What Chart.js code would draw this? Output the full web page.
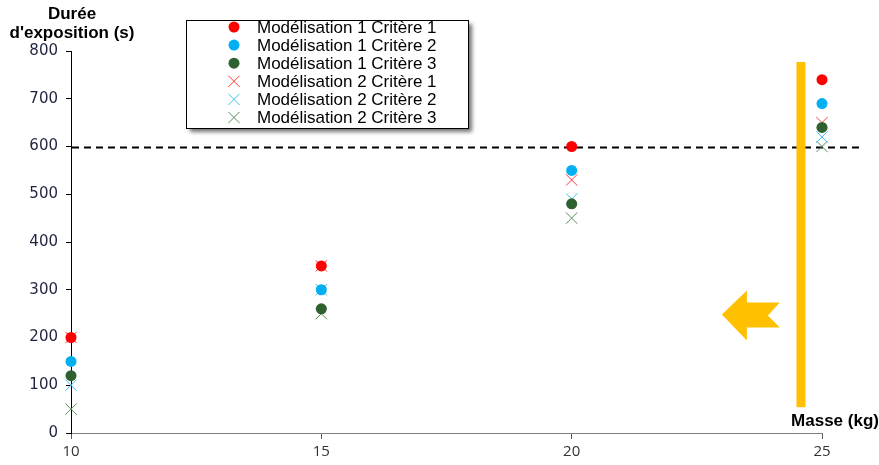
<!DOCTYPE html>
<html lang="fr">
<head>
    <meta charset="UTF-8">
    <title>Durée d'exposition selon la masse</title>
    <script src="https://cdn.jsdelivr.net/npm/chart.js@4.4.0/dist/chart.umd.min.js"></script>
    <style>
        html, body { margin: 0; padding: 0; background: #fff; }
        #wrap { position: relative; width: 879px; height: 465px; }
    </style>
</head>
<body>
    <div id="wrap"><canvas id="chart" width="879" height="465"></canvas></div>

    <script>
        // Data
        const masses = [10, 15, 20, 25];
        const m1c1 = [200, 350, 600, 740];
        const m1c2 = [150, 300, 550, 690];
        const m1c3 = [120, 260, 480, 640];
        const m2c1 = [200, 350, 530, 650];
        const m2c2 = [100, 300, 490, 620];
        const m2c3 = [50, 250, 450, 600];

        const seriesNames = [
            'Modélisation 1 Critère 1', 'Modélisation 1 Critère 2', 'Modélisation 1 Critère 3',
            'Modélisation 2 Critère 1', 'Modélisation 2 Critère 2', 'Modélisation 2 Critère 3'
        ];
        const yTicks = [0, 100, 200, 300, 400, 500, 600, 700, 800];
        const xTicks = [10, 15, 20, 25];
        const yTitle = ['Durée', "d'exposition (s)"];
        const xTitle = 'Masse (kg)';
        const threshold = 600;

        const ORANGE = '#FFC000';

        function pts(values) {
            return masses.map((m, i) => ({ x: m, y: values[i] }));
        }

        function dot(label, values, color) {
            return {
                label, data: pts(values),
                pointStyle: 'circle', pointRadius: 5.5,
                backgroundColor: color, borderColor: color, borderWidth: 0,
                showLine: false, clip: false
            };
        }
        function cross(label, values, color) {
            return {
                label, data: pts(values),
                pointStyle: 'crossRot', pointRadius: 8,
                backgroundColor: color, borderColor: color, borderWidth: 1,
                showLine: false, clip: false
            };
        }

        const datasets = [
            dot(seriesNames[0], m1c1, '#FF0000'),
            dot(seriesNames[1], m1c2, '#00B0F0'),
            dot(seriesNames[2], m1c3, '#2F6030'),
            cross(seriesNames[3], m2c1, '#FF3B3B'),
            cross(seriesNames[4], m2c2, '#3CC0F0'),
            cross(seriesNames[5], m2c3, '#5A8A5A')
        ];

        // dashed threshold line, orange bar and arrow
        const decorations = {
            id: 'decorations',
            beforeDatasetsDraw(chart) {
                const { ctx, chartArea, scales } = chart;
                const y = Math.round(scales.y.getPixelForValue(threshold)) + 0.5;
                ctx.save();
                ctx.strokeStyle = '#000';
                ctx.lineWidth = 2;
                ctx.setLineDash([7, 5]);
                ctx.beginPath();
                ctx.moveTo(chartArea.left + 1, y);
                ctx.lineTo(chartArea.right + 40, y);
                ctx.stroke();
                ctx.setLineDash([]);

                // vertical orange bar
                const bx = scales.x.getPixelForValue(24.58);
                const top = scales.y.getPixelForValue(777);
                const bot = scales.y.getPixelForValue(54);
                ctx.fillStyle = ORANGE;
                ctx.fillRect(bx - 4.5, top, 9, bot - top);

                // arrow pointing left
                const ax = scales.x.getPixelForValue(23.0);
                const ay = scales.y.getPixelForValue(248);
                ctx.beginPath();
                ctx.moveTo(ax, ay);
                ctx.lineTo(ax + 25, ay - 24);
                ctx.lineTo(ax + 25, ay - 12);
                ctx.lineTo(ax + 58, ay - 12);
                ctx.lineTo(ax + 46, ay + 1);
                ctx.lineTo(ax + 58, ay + 13);
                ctx.lineTo(ax + 25, ay + 13);
                ctx.lineTo(ax + 25, ay + 26);
                ctx.closePath();
                ctx.fill();
                ctx.restore();
            }
        };

        // legend box and axis titles
        const overlay = {
            id: 'overlay',
            afterDraw(chart) {
                const ctx = chart.ctx;
                ctx.save();

                // axis titles
                ctx.fillStyle = '#000';
                ctx.font = "bold 17px 'Liberation Sans', Arial, sans-serif";
                ctx.textAlign = 'center';
                ctx.textBaseline = 'middle';
                ctx.fillText(yTitle[0], 72, 14);
                ctx.fillText(yTitle[1], 72, 33);
                ctx.fillText(xTitle, 835, 421);

                // legend
                const bx = 186.5, by = 20.5, bw = 282, bh = 108;
                ctx.shadowColor = 'rgba(0,0,0,0.55)';
                ctx.shadowBlur = 4;
                ctx.shadowOffsetX = 3;
                ctx.shadowOffsetY = 3;
                ctx.fillStyle = '#fff';
                ctx.fillRect(bx, by, bw, bh);
                ctx.shadowColor = 'transparent';
                ctx.strokeStyle = '#000';
                ctx.lineWidth = 1;
                ctx.strokeRect(bx, by, bw, bh);

                ctx.font = "17px 'Liberation Sans', Arial, sans-serif";
                ctx.textAlign = 'left';
                chart.data.datasets.forEach((ds, i) => {
                    const cy = 27 + i * 18.1;
                    const mx = 234;
                    ctx.fillStyle = ds.backgroundColor;
                    ctx.strokeStyle = ds.borderColor;
                    if (ds.pointStyle === 'circle') {
                        ctx.beginPath();
                        ctx.arc(mx, cy, 5.5, 0, Math.PI * 2);
                        ctx.fill();
                    } else {
                        const r = 5.6;
                        ctx.lineWidth = 1;
                        ctx.beginPath();
                        ctx.moveTo(mx - r, cy - r); ctx.lineTo(mx + r, cy + r);
                        ctx.moveTo(mx + r, cy - r); ctx.lineTo(mx - r, cy + r);
                        ctx.stroke();
                    }
                    ctx.fillStyle = '#000';
                    ctx.fillText(ds.label, 257, cy + 1);
                });
                ctx.restore();
            }
        };

        new Chart(document.getElementById('chart'), {
            type: 'scatter',
            data: { datasets },
            options: {
                responsive: false,
                animation: false,
                layout: { padding: { top: 51, right: 57, bottom: 0, left: 0 } },
                plugins: {
                    legend: { display: false },
                    tooltip: { enabled: false }
                },
                scales: {
                    x: {
                        type: 'linear',
                        min: 10, max: 25,
                        afterFit(scale) { scale.height = 32; },
                        afterBuildTicks(scale) { scale.ticks = xTicks.map(v => ({ value: v })); },
                        grid: { drawOnChartArea: false, drawTicks: true, tickLength: 6, color: '#595959' },
                        border: { color: '#7f7f7f', width: 1 },
                        ticks: {
                            color: '#333',
                            padding: 4,
                            font: { family: "'Open Sans', sans-serif", size: 15 }
                        }
                    },
                    y: {
                        min: 0, max: 800,
                        afterFit(scale) { scale.width = 71; },
                        afterBuildTicks(scale) { scale.ticks = yTicks.map(v => ({ value: v })); },
                        grid: { drawOnChartArea: false, drawTicks: true, tickLength: 5, color: '#000' },
                        border: { color: '#000', width: 1 },
                        ticks: {
                            color: '#1f2440',
                            padding: 8,
                            font: { family: "'DejaVu Sans', sans-serif", size: 15 }
                        }
                    }
                }
            },
            plugins: [decorations, overlay]
        });
    </script>
</body>
</html>
